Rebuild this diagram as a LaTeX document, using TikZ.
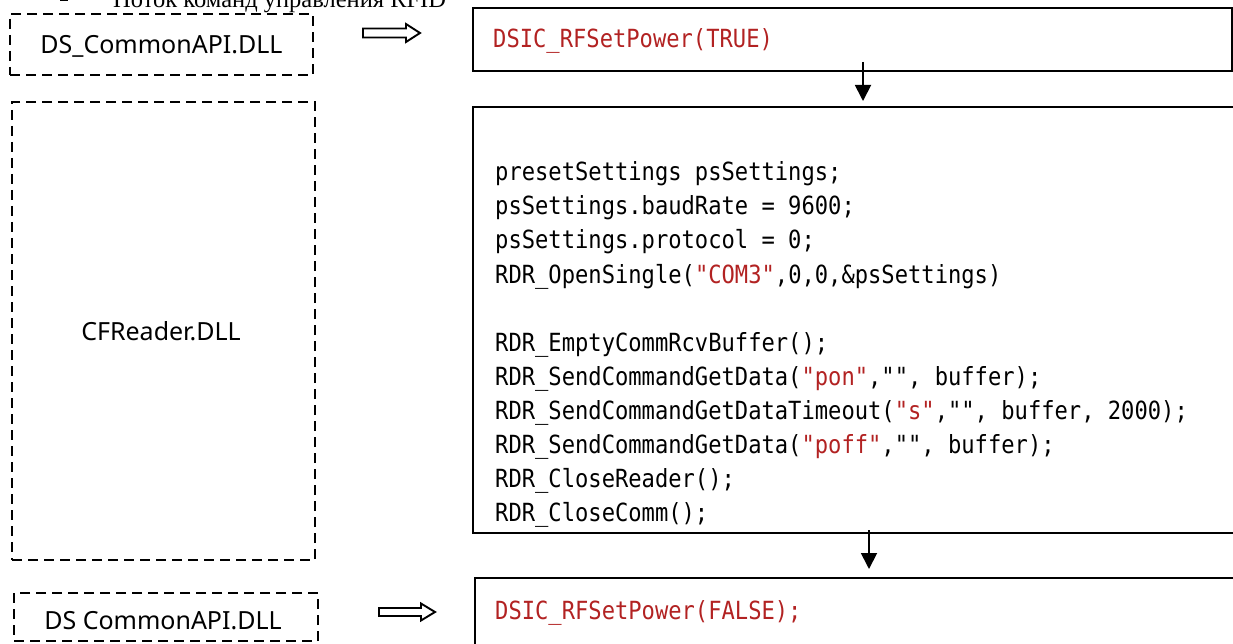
\documentclass[tikz,border=0pt]{standalone}
\usepackage{fontspec}
\usetikzlibrary{arrows.meta}
\setmainfont{Liberation Serif}
\newfontfamily\codefont[FakeStretch=0.885]{DejaVu Sans Mono}
\newfontfamily\labfont{Noto Sans}
\definecolor{codered}{RGB}{178,34,34}
\tikzset{
  dllbox/.style={draw, line width=2pt, dash pattern=on 10pt off 6pt, rectangle, inner sep=0pt},
  codebox/.style={draw, line width=2pt, rectangle, inner sep=0pt},
  lab/.style={font=\labfont\fontsize{25}{30}\selectfont, inner sep=0pt},
  codeline/.style={font=\codefont\fontsize{25}{34}\selectfont, anchor=base west, inner sep=0pt},
  flow/.style={line width=1.8pt, -{Triangle[width=16pt,length=16pt]}},
  hollow/.style={draw, line width=1.9pt, fill=white, line join=miter}
}
\newcommand{\redq}[1]{\textcolor{codered}{#1}}
\begin{document}
\begin{tikzpicture}[x=1pt,y=-1pt]
\useasboundingbox (0,0) rectangle (1233,644);
\clip (0,0) rectangle (1233,644);
% title
\fill (60,-3) rectangle (68,1);
\node[anchor=base west, font=\fontsize{24.5}{30}\selectfont, inner sep=0pt] (title) at (113,8) {Поток команд управления RFID};
% left dashed boxes
\node[dllbox, minimum width=303pt, minimum height=61pt] (dll1) at (161.5,44.5) {};
\node[lab] (dll1t) at (161.5,46) {DS\_CommonAPI.DLL};
\node[dllbox, minimum width=303pt, minimum height=458pt] (cfr) at (163.5,331) {};
\node[lab] (cfrt) at (161,331) {CFReader.DLL};
\node[dllbox, minimum width=304pt, minimum height=48pt] (dll2) at (166,617) {};
\node[lab] (dll2t) at (163,621) {DS CommonAPI.DLL};
% right code boxes
\node[codebox, minimum width=759pt, minimum height=63pt] (pon) at (852.5,39.5) {};
\node[codeline] (pont) at (493,48) {\redq{DSIC\_RFSetPower(TRUE)}};
\node[codebox, minimum width=780pt, minimum height=426pt] (main) at (863,320) {};
\node[codeline] (c1) at (495,181) {presetSettings psSettings;};
\node[codeline] (c2) at (495,215) {psSettings.baudRate = 9600;};
\node[codeline] (c3) at (495,249) {psSettings.protocol = 0;};
\node[codeline] (c4) at (495,283) {RDR\_OpenSingle(\redq{"COM3"},0,0,\&psSettings)};
\node[codeline] (c5) at (495,351) {RDR\_EmptyCommRcvBuffer();};
\node[codeline] (c6) at (495,385) {RDR\_SendCommandGetData(\redq{"pon"},"", buffer);};
\node[codeline] (c7) at (495,419) {RDR\_SendCommandGetDataTimeout(\redq{"s"},"", buffer, 2000);};
\node[codeline] (c8) at (495,453) {RDR\_SendCommandGetData(\redq{"poff"},"", buffer);};
\node[codeline] (c9) at (495,487) {RDR\_CloseReader();};
\node[codeline] (c10) at (495,521) {RDR\_CloseComm();};
\node[codebox, minimum width=780pt, minimum height=80pt] (poff) at (865,618) {};
\node[codeline] (pofft) at (495,619) {\redq{DSIC\_RFSetPower(FALSE);}};
% flow arrows
\coordinate (a1s) at (863,62);
\coordinate (a1e) at (863,101);
\draw[flow] (a1s) -- (a1e);
\coordinate (a2s) at (869,530);
\coordinate (a2e) at (869,569);
\draw[flow] (a2s) -- (a2e);
% hollow arrows
\draw[hollow] (363,28.5) -- (406,28.5) -- (406,24) -- (420,33) -- (406,42) -- (406,37.5) -- (363,37.5) -- cycle;
\draw[hollow] (379,608) -- (421,608) -- (421,603.5) -- (435,612) -- (421,620.5) -- (421,616) -- (379,616) -- cycle;
\end{tikzpicture}
\end{document}
